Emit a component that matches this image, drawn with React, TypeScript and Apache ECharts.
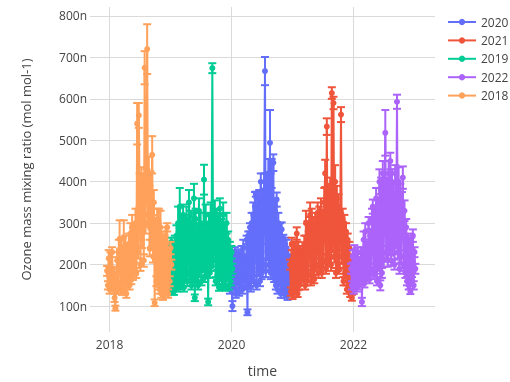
import React, { useEffect, useRef } from "react";
import * as echarts from "echarts";

// Legend / trace order as in the reference
const traceNames = ["2020", "2021", "2019", "2022", "2018"];
const traceColors = ["#636EFA", "#EF553B", "#00CC96", "#AB63FA", "#FFA15A"];
const traceYears = [2020, 2021, 2019, 2022, 2018];

// samples every 5 days, starting a little before each calendar year
const sampleStep = 5 / 365.25;
const startOffset = -0.04;

const values2018 = [185, 150, 215, 140, 200, 160, 230, 145, 180, 120, 95, 165, 210, 140, 235, 262, 150, 240, 135, 220, 265, 155, 245, 130, 225, 170, 250, 150, 275, 165, 290, 175, 260, 190, 300, 180, 540, 230, 560, 380, 200, 400, 260, 390, 210, 675, 300, 400, 720, 320, 420, 240, 390, 260, 465, 220, 350, 108, 280, 160, 310, 150, 300, 140, 290, 130, 260, 125, 240, 150, 270, 135, 290, 130, 220, 160, 240, 200];
const errors2018 = [12, 10, 20, 10, 30, 10, 12, 10, 15, 10, 6, 12, 20, 10, 25, 45, 10, 20, 8, 25, 42, 10, 25, 10, 20, 12, 25, 10, 25, 12, 30, 12, 25, 15, 35, 12, 50, 15, 30, 40, 15, 35, 20, 30, 15, 40, 25, 30, 60, 30, 40, 20, 35, 25, 45, 15, 30, 8, 25, 12, 25, 10, 35, 10, 40, 10, 20, 10, 25, 12, 20, 10, 10, 10, 20, 12, 15, 12];

const values2019 = [200, 150, 240, 140, 255, 160, 230, 135, 250, 150, 270, 145, 300, 160, 340, 150, 290, 170, 320, 145, 280, 175, 310, 160, 260, 350, 180, 300, 150, 290, 170, 360, 120, 310, 170, 280, 150, 330, 185, 300, 160, 280, 200, 405, 170, 320, 190, 280, 110, 300, 180, 320, 200, 674, 210, 300, 330, 160, 310, 175, 300, 145, 335, 175, 290, 150, 320, 160, 280, 145, 300, 170, 260, 150, 240, 160, 230, 190];
const errors2019 = [12, 10, 15, 10, 10, 10, 20, 8, 20, 10, 25, 10, 40, 10, 45, 10, 30, 12, 25, 10, 25, 12, 30, 12, 20, 30, 15, 30, 10, 25, 12, 35, 8, 25, 12, 20, 10, 30, 15, 25, 10, 20, 15, 36, 12, 25, 15, 20, 8, 25, 12, 30, 15, 12, 15, 25, 25, 10, 25, 12, 25, 8, 25, 12, 20, 10, 30, 10, 20, 8, 25, 10, 20, 10, 15, 10, 15, 12];

const values2020 = [180, 140, 220, 150, 100, 210, 150, 230, 130, 200, 160, 225, 135, 215, 150, 230, 140, 240, 170, 210, 150, 260, 85, 270, 160, 290, 145, 300, 170, 320, 160, 340, 370, 150, 330, 190, 360, 160, 400, 180, 350, 200, 380, 667, 185, 380, 230, 420, 200, 494, 180, 420, 200, 446, 170, 330, 150, 357, 140, 300, 160, 280, 130, 285, 150, 260, 130, 250, 150, 240, 125, 220, 160, 210, 140, 200, 150, 190];
const errors2020 = [12, 10, 15, 10, 12, 15, 10, 12, 10, 15, 10, 12, 10, 15, 10, 15, 10, 20, 12, 15, 10, 10, 7, 10, 12, 10, 10, 25, 12, 30, 12, 35, 6, 10, 30, 15, 20, 12, 20, 15, 30, 15, 40, 34, 15, 40, 20, 35, 15, 79, 15, 35, 15, 20, 12, 30, 10, 17, 10, 25, 12, 20, 10, 17, 10, 12, 10, 15, 12, 20, 10, 15, 10, 15, 10, 15, 10, 12];

const values2021 = [200, 135, 250, 125, 230, 150, 240, 140, 275, 130, 240, 150, 220, 160, 200, 235, 170, 250, 150, 300, 160, 280, 175, 290, 320, 160, 310, 185, 280, 165, 300, 200, 290, 325, 180, 310, 200, 330, 180, 300, 210, 350, 420, 190, 533, 210, 360, 230, 380, 200, 614, 250, 590, 220, 400, 180, 360, 200, 340, 190, 300, 562, 220, 310, 160, 300, 180, 280, 140, 260, 150, 240, 130, 200, 120, 170, 140, 200];
const errors2021 = [12, 10, 15, 8, 15, 10, 15, 10, 15, 8, 15, 10, 12, 10, 12, 10, 12, 20, 10, 30, 10, 25, 12, 25, 30, 10, 25, 12, 20, 10, 25, 15, 25, 25, 12, 30, 15, 30, 12, 30, 15, 35, 33, 12, 20, 15, 35, 15, 30, 15, 14, 20, 15, 15, 40, 12, 30, 15, 30, 12, 25, 18, 15, 25, 10, 20, 12, 20, 10, 15, 10, 15, 8, 12, 7, 10, 10, 12];

const values2022 = [190, 150, 220, 140, 235, 160, 210, 145, 230, 150, 200, 170, 230, 110, 200, 260, 155, 280, 170, 240, 180, 300, 165, 270, 190, 310, 340, 175, 310, 190, 360, 160, 330, 200, 400, 150, 380, 180, 420, 210, 350, 518, 230, 380, 210, 420, 240, 450, 210, 400, 240, 370, 200, 420, 260, 593, 230, 400, 190, 370, 220, 350, 410, 200, 330, 180, 290, 160, 260, 150, 240, 135, 250, 160, 270, 150, 230, 190];
const errors2022 = [12, 10, 15, 10, 12, 10, 15, 10, 12, 10, 15, 10, 12, 10, 15, 20, 10, 20, 10, 15, 12, 15, 10, 15, 12, 25, 17, 10, 25, 12, 25, 10, 25, 15, 30, 12, 30, 12, 30, 15, 25, 55, 15, 30, 15, 30, 15, 20, 12, 30, 15, 25, 12, 20, 20, 17, 15, 35, 12, 25, 15, 25, 27, 15, 25, 12, 20, 10, 15, 10, 15, 6, 15, 10, 15, 10, 12, 12];

const traceValues = [values2020, values2021, values2019, values2022, values2018];
const traceErrors = [errors2020, errors2021, errors2019, errors2022, errors2018];

const yTicks = [100, 200, 300, 400, 500, 600, 700, 800];
const xTicks = [2018, 2020, 2022];

const FONT = "'Open Sans', Verdana, Arial, sans-serif";

export default function App() {
  const ref = useRef<HTMLDivElement>(null);

  useEffect(() => {
    if (!ref.current) return;
    const chart = echarts.init(ref.current, undefined, { renderer: "svg" });

    const series: any[] = [];
    traceNames.forEach((name, k) => {
      const vals = traceValues[k];
      const errs = traceErrors[k];
      const start = traceYears[k] + startOffset;
      const pts = vals.map((v, i) => [start + i * sampleStep, v]);
      const errPts = vals.map((v, i) => [start + i * sampleStep, v, errs[i]]);
      const color = traceColors[k];
      series.push({
        name: name + " error",
        type: "custom",
        z: 2 + 2 * k,
        silent: true,
        data: errPts,
        encode: { x: 0, y: 1 },
        renderItem: (params: any, api: any) => {
          const x = api.value(0);
          const y = api.value(1);
          const e = api.value(2);
          const top = api.coord([x, y + e]);
          const bot = api.coord([x, y - e]);
          const hw = 4;
          const st = { stroke: color, lineWidth: 2 };
          return {
            type: "group",
            children: [
              { type: "line", shape: { x1: top[0], y1: top[1], x2: bot[0], y2: bot[1] }, style: st },
              { type: "line", shape: { x1: top[0] - hw, y1: top[1], x2: top[0] + hw, y2: top[1] }, style: st },
              { type: "line", shape: { x1: bot[0] - hw, y1: bot[1], x2: bot[0] + hw, y2: bot[1] }, style: st },
            ],
          };
        },
      });
      series.push({
        name,
        type: "line",
        z: 3 + 2 * k,
        data: pts,
        symbol: "circle",
        symbolSize: 6,
        showAllSymbol: true,
        lineStyle: { color, width: 2 },
        itemStyle: { color },
        emphasis: { disabled: true },
      });
    });

    chart.setOption({
      animation: false,
      textStyle: { fontFamily: FONT },
      grid: { left: 90, right: 75, top: 7, bottom: 49 },
      legend: {
        data: traceNames,
        orient: "vertical",
        left: 442,
        top: 10,
        itemWidth: 28,
        itemHeight: 8,
        itemGap: 4.4,
        textStyle: { color: "#444", fontSize: 12, fontFamily: FONT, lineHeight: 14 },
      },
      xAxis: {
        type: "value",
        min: 2017.68,
        max: 2023.336,
        name: "time",
        nameLocation: "middle",
        nameGap: 31,
        nameTextStyle: { color: "#444", fontSize: 14, fontFamily: FONT },
        axisLine: { show: false },
        axisTick: { show: false, customValues: xTicks },
        axisLabel: { customValues: xTicks, color: "#444", fontSize: 12, fontFamily: FONT, margin: 6, formatter: (v: number) => String(v) },
        splitLine: { show: true, lineStyle: { color: "#dadada", width: 1 } },
      },
      yAxis: {
        type: "value",
        min: 37.5,
        max: 821.6,
        name: "Ozone mass mixing ratio (mol mol-1)",
        nameLocation: "middle",
        nameGap: 58,
        nameTextStyle: { color: "#444", fontSize: 13, fontFamily: FONT },
        axisLine: { show: false },
        axisTick: { show: false, customValues: yTicks },
        axisLabel: { customValues: yTicks, color: "#444", fontSize: 12, fontFamily: FONT, margin: 3, formatter: (v: number) => v + "n" },
        splitLine: { show: true, lineStyle: { color: "#dadada", width: 1 } },
      },
      series,
    });

    return () => chart.dispose();
  }, []);

  return <div ref={ref} style={{ position: "fixed", left: 0, top: 0, width: 510, height: 382 }} />;
}
